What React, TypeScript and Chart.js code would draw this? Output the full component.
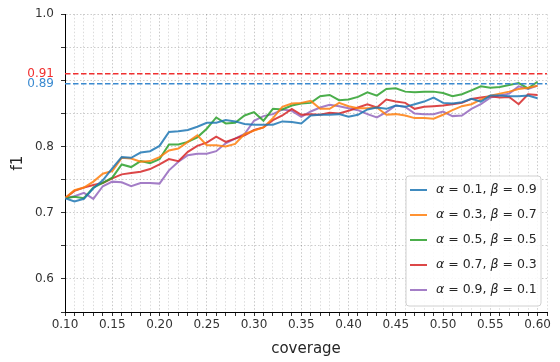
import React, { useEffect, useRef } from "react";
import { Chart, registerables } from "chart.js";

Chart.register(...registerables);

const coverage = [
  0.10, 0.11, 0.12, 0.13, 0.14, 0.15, 0.16, 0.17, 0.18, 0.19,
  0.20, 0.21, 0.22, 0.23, 0.24, 0.25, 0.26, 0.27, 0.28, 0.29,
  0.30, 0.31, 0.32, 0.33, 0.34, 0.35, 0.36, 0.37, 0.38, 0.39,
  0.40, 0.41, 0.42, 0.43, 0.44, 0.45, 0.46, 0.47, 0.48, 0.49,
  0.50, 0.51, 0.52, 0.53, 0.54, 0.55, 0.56, 0.57, 0.58, 0.59,
  0.60,
];

const f1A01 = [
  0.722, 0.717, 0.721, 0.737, 0.749, 0.767, 0.784, 0.783, 0.791, 0.793,
  0.801, 0.822, 0.823, 0.825, 0.830, 0.836, 0.836, 0.840, 0.838, 0.834,
  0.833, 0.833, 0.833, 0.838, 0.837, 0.835, 0.847, 0.848, 0.848, 0.849,
  0.845, 0.848, 0.856, 0.859, 0.857, 0.862, 0.860, 0.864, 0.868, 0.874,
  0.866, 0.865, 0.867, 0.872, 0.868, 0.877, 0.877, 0.876, 0.876, 0.877,
  0.873,
];
const f1A03 = [
  0.722, 0.734, 0.738, 0.747, 0.759, 0.763, 0.783, 0.782, 0.777, 0.778,
  0.784, 0.794, 0.797, 0.807, 0.817, 0.802, 0.802, 0.800, 0.804, 0.819,
  0.824, 0.829, 0.843, 0.860, 0.865, 0.866, 0.869, 0.857, 0.857, 0.866,
  0.861, 0.858, 0.858, 0.859, 0.848, 0.849, 0.847, 0.843, 0.843, 0.842,
  0.848, 0.855, 0.861, 0.864, 0.871, 0.877, 0.880, 0.883, 0.887, 0.889,
  0.892,
];
const f1A05 = [
  0.722, 0.724, 0.722, 0.738, 0.745, 0.753, 0.773, 0.769, 0.778, 0.775,
  0.781, 0.803, 0.803, 0.807, 0.814, 0.827, 0.844, 0.835, 0.836, 0.847,
  0.852, 0.839, 0.857, 0.856, 0.862, 0.865, 0.866, 0.876, 0.878, 0.870,
  0.871, 0.875, 0.882, 0.877, 0.887, 0.888, 0.883, 0.882, 0.883, 0.883,
  0.881, 0.876, 0.879, 0.885, 0.891, 0.889, 0.890, 0.893, 0.896, 0.888,
  0.898,
];
const f1A07 = [
  0.722, 0.733, 0.738, 0.742, 0.745, 0.752, 0.758, 0.760, 0.762, 0.766,
  0.773, 0.781, 0.778, 0.792, 0.801, 0.806, 0.815, 0.807, 0.812, 0.817,
  0.825, 0.829, 0.840, 0.847, 0.857, 0.848, 0.849, 0.848, 0.851, 0.850,
  0.854, 0.859, 0.864, 0.859, 0.871, 0.868, 0.866, 0.857, 0.860, 0.861,
  0.862, 0.864, 0.866, 0.872, 0.874, 0.876, 0.874, 0.875, 0.864, 0.879,
  0.878,
];
const f1A09 = [
  0.722, 0.725, 0.730, 0.721, 0.740, 0.747, 0.746, 0.740, 0.745, 0.745,
  0.744, 0.764, 0.777, 0.787, 0.789, 0.789, 0.793, 0.805, 0.812, 0.819,
  0.839, 0.846, 0.849, 0.856, 0.854, 0.845, 0.853, 0.859, 0.863, 0.861,
  0.858, 0.855, 0.849, 0.844, 0.852, 0.862, 0.860, 0.850, 0.849, 0.849,
  0.853, 0.846, 0.847, 0.857, 0.864, 0.874, 0.877, 0.880, 0.891, 0.887,
  0.892,
];

const alphas = ["0.1", "0.3", "0.5", "0.7", "0.9"];
const betas = ["0.9", "0.7", "0.5", "0.3", "0.1"];
const seriesValues = [f1A01, f1A03, f1A05, f1A07, f1A09];
const seriesColors = [
  "rgba(31,119,180,0.85)",
  "rgba(255,127,14,0.85)",
  "rgba(44,160,44,0.85)",
  "rgba(214,39,40,0.85)",
  "rgba(148,103,189,0.85)",
];

const refValues = [0.91, 0.895];
const refLabels = ["0.91", "0.89"];
const refColors = ["#f03030", "#3a8ad0"];

const xMin = 0.1;
const xMax = 0.61;
const yMin = 0.55;
const yMax = 1.0;
const xTickValues = [
  0.10, 0.11, 0.12, 0.13, 0.14, 0.15, 0.16, 0.17, 0.18, 0.19,
  0.20, 0.21, 0.22, 0.23, 0.24, 0.25, 0.26, 0.27, 0.28, 0.29,
  0.30, 0.31, 0.32, 0.33, 0.34, 0.35, 0.36, 0.37, 0.38, 0.39,
  0.40, 0.41, 0.42, 0.43, 0.44, 0.45, 0.46, 0.47, 0.48, 0.49,
  0.50, 0.51, 0.52, 0.53, 0.54, 0.55, 0.56, 0.57, 0.58, 0.59,
  0.60, 0.61,
];
const xLabelValues = [0.10, 0.15, 0.20, 0.25, 0.30, 0.35, 0.40, 0.45, 0.50, 0.55, 0.60];
const yTickValues = [0.55, 0.6, 0.65, 0.7, 0.75, 0.8, 0.85, 0.895, 0.9, 0.91, 0.95, 1.0];
const yLabelValues = [0.6, 0.7, 0.8, 1.0, 0.895, 0.91];
const yLabelTexts = ["0.6", "0.7", "0.8", "1.0", refLabels[1], refLabels[0]];

const near = (a: number, b: number) => Math.abs(a - b) < 1e-6;

const legendPlugin = {
  id: "customLegend",
  afterDraw(chart: any) {
    const { ctx, chartArea } = chart;
    const w = 135;
    const h = 130;
    const x = chartArea.right - 6 - w;
    const y = chartArea.bottom - 6 - h;
    ctx.save();
    ctx.beginPath();
    const r = 3;
    ctx.moveTo(x + r, y);
    ctx.lineTo(x + w - r, y);
    ctx.arcTo(x + w, y, x + w, y + r, r);
    ctx.lineTo(x + w, y + h - r);
    ctx.arcTo(x + w, y + h, x + w - r, y + h, r);
    ctx.lineTo(x + r, y + h);
    ctx.arcTo(x, y + h, x, y + h - r, r);
    ctx.lineTo(x, y + r);
    ctx.arcTo(x, y, x + r, y, r);
    ctx.closePath();
    ctx.fillStyle = "rgba(255,255,255,0.85)";
    ctx.fill();
    ctx.strokeStyle = "#d0d0d0";
    ctx.lineWidth = 1;
    ctx.stroke();

    const fs = 12.5;
    for (let i = 0; i < alphas.length; i++) {
      const cy = y + 14 + i * 25;
      ctx.strokeStyle = seriesColors[i];
      ctx.lineWidth = 2;
      ctx.beginPath();
      ctx.moveTo(x + 4, cy);
      ctx.lineTo(x + 21, cy);
      ctx.stroke();
      const segs = [
        { t: "α", it: true },
        { t: " = " + alphas[i] + ",", it: false },
        { t: " β", it: true },
        { t: " = " + betas[i], it: false },
      ];
      let tx = x + 30;
      ctx.fillStyle = "#262626";
      ctx.textBaseline = "middle";
      ctx.textAlign = "left";
      for (const s of segs) {
        ctx.font = (s.it ? "italic " : "") + fs + "px 'DejaVu Sans'";
        ctx.fillText(s.t, tx, cy);
        tx += ctx.measureText(s.t).width;
      }
    }
    ctx.restore();
  },
};

export default function App() {
  const ref = useRef<HTMLCanvasElement | null>(null);
  useEffect(() => {
    document.body.style.margin = "0";
    if (!ref.current) return;
    Chart.defaults.font.family = "'DejaVu Sans'";
    const datasets: any[] = [];
    refValues.forEach((v, i) => {
      datasets.push({
        label: "ref" + i,
        data: [
          { x: xMin, y: v },
          { x: xMax, y: v },
        ],
        borderColor: refColors[i],
        borderWidth: 1.5,
        borderDash: [5.5, 2.5],
        pointRadius: 0,
        fill: false,
      });
    });
    seriesValues.forEach((vals, i) => {
      datasets.push({
        label: "α = " + alphas[i] + ", β = " + betas[i],
        data: coverage.map((c, j) => ({ x: c, y: vals[j] })),
        borderColor: seriesColors[i],
        borderWidth: 2,
        pointRadius: 0,
        fill: false,
        tension: 0,
      });
    });
    const chart = new Chart(ref.current, {
      type: "line",
      data: { datasets },
      options: {
        animation: false,
        responsive: false,
        devicePixelRatio: 1,
        layout: { padding: { left: 0, right: 13, top: 9, bottom: 0 } },
        plugins: { legend: { display: false }, tooltip: { enabled: false } },
        scales: {
          x: {
            type: "linear",
            min: xMin,
            max: xMax,
            afterBuildTicks: (scale: any) => {
              scale.ticks = xTickValues.map((v) => ({ value: v }));
            },
            afterFit: (scale: any) => {
              scale.height = 50;
            },
            ticks: {
              autoSkip: false,
              maxRotation: 0,
              padding: 2,
              color: "#333",
              font: { size: 12 },
              callback: (v: any) => {
                const n = Number(v);
                return xLabelValues.some((l) => near(l, n)) ? n.toFixed(2) : "";
              },
            },
            grid: {
              color: (c: any) =>
                c.tick && xLabelValues.some((l) => near(l, c.tick.value))
                  ? "rgba(0,0,0,0.22)"
                  : "rgba(0,0,0,0.14)",
              tickColor: "#333",
              tickLength: 4,
              lineWidth: 1,
            },
            border: { display: true, color: "#000", width: 1, dash: [1.5, 2] },
            title: {
              display: true,
              text: "coverage",
              color: "#262626",
              font: { size: 15 },
              padding: { top: 0, bottom: 4 },
            },
          },
          y: {
            type: "linear",
            min: yMin,
            max: yMax,
            afterBuildTicks: (scale: any) => {
              scale.ticks = yTickValues.map((v) => ({ value: v }));
            },
            afterFit: (scale: any) => {
              scale.width = 65;
            },
            ticks: {
              autoSkip: false,
              padding: 7,
              font: { size: 12 },
              color: (c: any) => {
                const v = c.tick ? c.tick.value : 0;
                const k = refValues.findIndex((r) => near(r, v));
                return k >= 0 ? refColors[k] : "#333";
              },
              callback: (v: any) => {
                const n = Number(v);
                const k = yLabelValues.findIndex((l) => near(l, n));
                return k >= 0 ? yLabelTexts[k] : "";
              },
            },
            grid: {
              color: (c: any) => {
                const v = c.tick ? c.tick.value : 0;
                if (refValues.some((r) => near(r, v))) return "rgba(0,0,0,0)";
                return "rgba(0,0,0,0.2)";
              },
              tickColor: (c: any) => {
                const v = c.tick ? c.tick.value : 0;
                if (refValues.some((r) => near(r, v))) return "rgba(0,0,0,0)";
                return "#333";
              },
              tickLength: 4,
              lineWidth: 1,
            },
            border: { display: true, color: "#000", width: 1, dash: [1.5, 2] },
            title: {
              display: true,
              text: "f1",
              color: "#262626",
              font: { size: 15 },
              padding: { top: 9, bottom: 0 },
            },
          },
        },
      },
      plugins: [legendPlugin],
    });
    return () => chart.destroy();
  }, []);
  return (
    <div style={{ width: 560, height: 362, background: "#fff" }}>
      <canvas ref={ref} width={560} height={362} style={{ display: "block" }} />
    </div>
  );
}
